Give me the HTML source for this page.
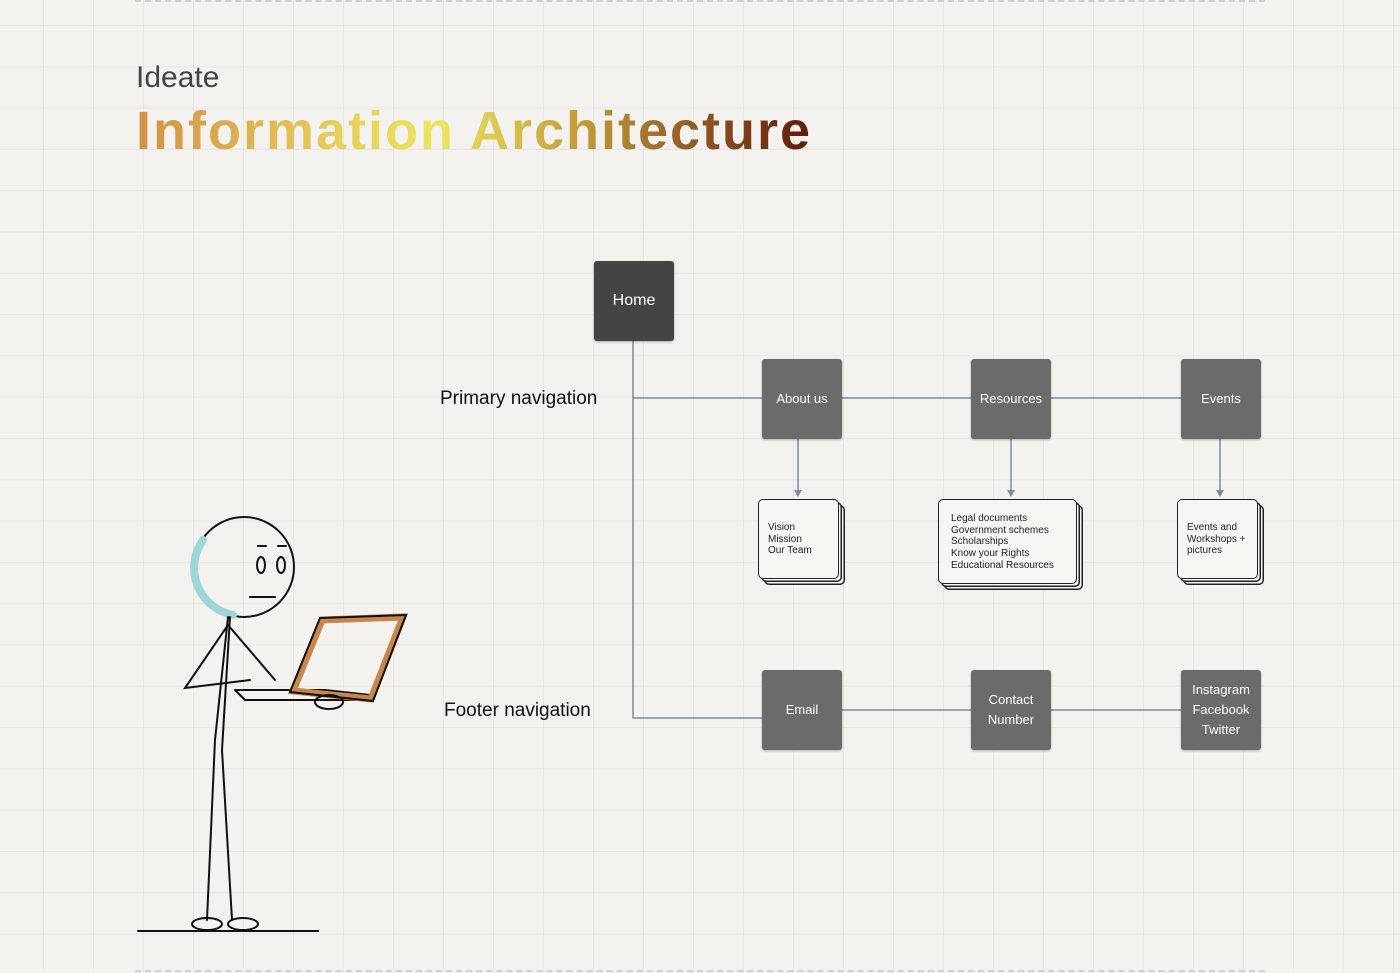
<!DOCTYPE html>
<html><head><meta charset="utf-8"><style>
body{margin:0;width:1400px;height:973px;overflow:hidden;background:#f3f2ee;font-family:"Liberation Sans",sans-serif;position:relative}
.grid{position:absolute;inset:0;background-image:linear-gradient(to right,rgba(0,0,0,.05) 1px,transparent 1px),linear-gradient(to bottom,rgba(0,0,0,.05) 1px,transparent 1px);background-size:50px 41.3px;background-position:43px 25px}
.dash{position:absolute;left:135px;width:1130px;height:0;border-top:2px dashed #cfcfcf}
.t{position:absolute;white-space:nowrap}
.box{position:absolute;width:80px;height:80px;background:#6b6b6b;border-radius:3px;color:#fff;font-size:13px;display:flex;align-items:center;justify-content:center;text-align:center;line-height:20px;box-shadow:0 1px 2px rgba(0,0,0,.3)}
.doc{position:absolute;background:#f6f5f1;border:1.5px solid #222;border-radius:5px;box-shadow:3px 3px 0 -1.5px #f6f5f1,3px 3px 0 0 #222,6px 6px 0 -1.5px #f6f5f1,6px 6px 0 0 #222;font-size:10px;line-height:11.7px;color:#222;box-sizing:border-box}
</style></head><body>
<div class="grid"></div>
<div class="dash" style="top:0"></div>
<div class="dash" style="top:970px"></div>
<div class="t" style="left:136px;top:61px;font-size:30px;color:#444">Ideate</div>
<div class="t" style="left:136px;top:100px;font-size:54px;font-weight:bold;letter-spacing:2px;background:linear-gradient(90deg,#d48f48 0%,#e6cf5a 30%,#ece55f 45%,#c59f3c 65%,#8a5021 85%,#5e1a0c 100%);-webkit-background-clip:text;background-clip:text;color:transparent">Information Architecture</div>
<div class="t" style="left:440px;top:388px;font-size:19px;color:#111">Primary navigation</div>
<div class="t" style="left:444px;top:700px;font-size:19px;color:#111">Footer navigation</div>
<svg width="1400" height="973" style="position:absolute;left:0;top:0">
<g stroke="#7f88a8" stroke-width="1.5" fill="none">
<path d="M633 340V718H762M633 398H1181M841 710H1181M798 438V494M1011 438V494M1220 438V494"/>
</g>
<g fill="#7f88a8"><path d="M794 490h8l-4 7z"/><path d="M1007 490h8l-4 7z"/><path d="M1216 490h8l-4 7z"/></g>
<g fill="none" stroke="#111" stroke-width="2" stroke-linecap="round">
<circle cx="244" cy="567" r="50"/>
<path d="M203 540a48 48 0 0 0 30 75" stroke="#9fd6d8" stroke-width="8"/>
<ellipse cx="261" cy="565" rx="4" ry="8"/><ellipse cx="281" cy="565" rx="4" ry="8"/>
<path d="M258 546h8M278 546h8M250 597h25"/>
<path d="M228 617L215 740L207 920M230 617L222 750L232 920M228 625L185 688L250 680M228 625L275 680"/>
<path d="M235 690h90l45 5M235 690l10 10h120"/>
<path d="M322 620L403 617L371 699L293 691Z" stroke="#c8864d" stroke-width="7"/>
<path d="M320 618L406 615L373 701L290 692Z"/>
<ellipse cx="329" cy="702" rx="14" ry="7"/>
<ellipse cx="207" cy="924" rx="15" ry="6"/><ellipse cx="243" cy="924" rx="15" ry="6"/>
<path d="M138 931H318"/>
</g>
</svg>
<div class="box" style="left:594px;top:261px;background:#444;font-size:16px">Home</div>
<div class="box" style="left:762px;top:359px">About us</div>
<div class="box" style="left:971px;top:359px">Resources</div>
<div class="box" style="left:1181px;top:359px">Events</div>
<div class="box" style="left:762px;top:670px">Email</div>
<div class="box" style="left:971px;top:670px">Contact<br>Number</div>
<div class="box" style="left:1181px;top:670px">Instagram<br>Facebook<br>Twitter</div>
<div class="doc" style="left:758px;top:499px;width:81px;height:80px;padding:22px 0 0 9px">Vision<br>Mission<br>Our Team</div>
<div class="doc" style="left:938px;top:499px;width:139px;height:85px;padding:13px 0 0 12px">Legal documents<br>Government schemes<br>Scholarships<br>Know your Rights<br>Educational Resources</div>
<div class="doc" style="left:1177px;top:499px;width:81px;height:80px;padding:22px 0 0 9px">Events and<br>Workshops +<br>pictures</div>
</body></html>
